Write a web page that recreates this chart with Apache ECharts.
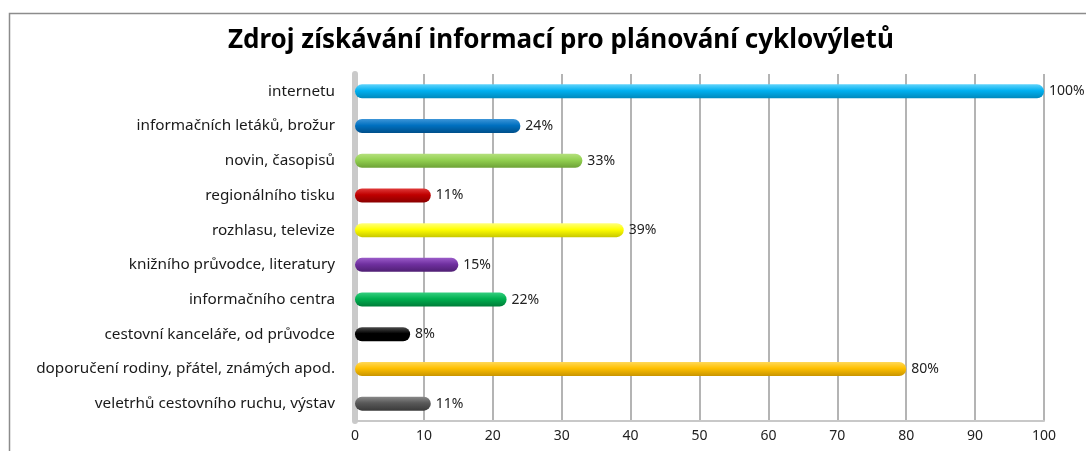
<!DOCTYPE html>
<html><head><meta charset="utf-8">
<script src="https://cdn.jsdelivr.net/npm/echarts@6/dist/echarts.min.js"></script>
<style>html,body{margin:0;padding:0;background:#fff}#c{width:1086px;height:451px}</style>
</head><body><div id="c"></div>
<script>
const title = 'Zdroj získávání informací pro plánování cyklovýletů';
const categories = ['internetu','informačních letáků, brožur','novin, časopisů','regionálního tisku','rozhlasu, televize','knižního průvodce, literatury','informačního centra','cestovní kanceláře, od průvodce','doporučení rodiny, přátel, známých apod.','veletrhů cestovního ruchu, výstav'];
const values = [100,24,33,11,39,15,22,8,80,11];
const xTicks = [0,10,20,30,40,50,60,70,80,90,100];
const barColors = [['#5fd3fb','#00b0f0','#0088bb'],['#3d95d8','#0070c0','#004f8a'],['#b5e07e','#92d050','#6da236'],['#e03a3a','#c00000','#8a0000'],['#ffff80','#ffff00','#c8c800'],['#9a5bc9','#7030a0','#4f1f73'],['#35cf7f','#00b050','#007d38'],['#4a4a4a','#000000','#000000'],['#ffd95a','#ffc000','#c99500'],['#8a8a8a','#595959','#3a3a3a']];

const chart = echarts.init(document.getElementById('c'));
const FONT = '"Noto Sans", "Open Sans", sans-serif';
chart.setOption({
  animation:false,
  title:{text:title,left:223,top:23,textStyle:{fontFamily:FONT,fontSize:26,fontWeight:'bold',color:'#000'}},
  graphic:[{type:'rect',shape:{x:9.5,y:13.5,width:1200,height:600},style:{fill:'none',stroke:'#8c8c8c',lineWidth:1.5},silent:true}],
  grid:{left:355,right:42,top:74,bottom:30},
  xAxis:{type:'value',min:0,max:100,interval:10,
    axisLine:{show:true,lineStyle:{color:'#c8c8c8',width:2}},
    axisTick:{show:false},
    axisLabel:{fontFamily:FONT,fontSize:14,color:'#222',margin:8,formatter:v=>xTicks.includes(v)?String(v):''},
    splitLine:{show:true,lineStyle:{color:'#b4b4b4',width:2}}},
  yAxis:{type:'category',data:categories,inverse:true,
    axisLine:{show:true,lineStyle:{color:'#cacaca',width:6}},
    axisTick:{show:false},
    axisLabel:{fontFamily:FONT,fontSize:15.3,color:'#1a1a1a',margin:20}},
  series:[{type:'bar',barWidth:14,
    data:values.map((v,i)=>({value:v,itemStyle:{color:new echarts.graphic.LinearGradient(0,0,0,1,[{offset:0,color:barColors[i][0]},{offset:0.45,color:barColors[i][1]},{offset:1,color:barColors[i][2]}]),borderRadius:7}})),
    label:{show:true,position:'right',distance:5,formatter:p=>p.value+'%',fontFamily:FONT,fontSize:14,color:'#222'}}]
});
</script></body></html>
